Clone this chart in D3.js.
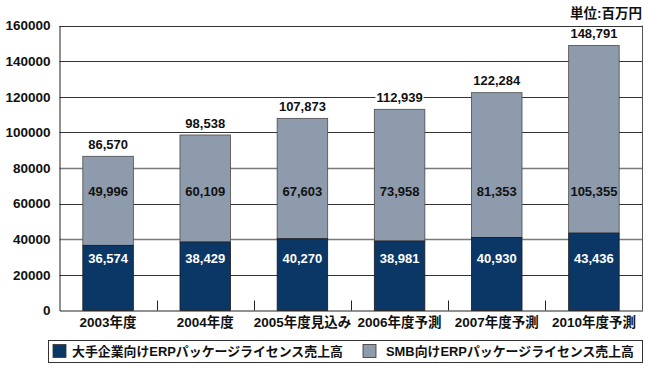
<!DOCTYPE html>
<html><head><meta charset="utf-8">
<script src="https://cdn.jsdelivr.net/npm/d3@7"></script>
<style>body{margin:0;background:#fff}svg{display:block}text{font-family:"Liberation Sans",Arial,"Noto Sans CJK JP",sans-serif;font-weight:bold}</style>
</head><body><svg id="c" width="650" height="368"></svg>
<script>
const categories = ["2003年度","2004年度","2005年度見込み","2006年度予測","2007年度予測","2010年度予測"];
const largeSales = [36574, 38429, 40270, 38981, 40930, 43436];
const smbSales = [49996, 60109, 67603, 73958, 81353, 105355];
const totals = ["86,570","98,538","107,873","112,939","122,284","148,791"];
const yTicks = [0,20000,40000,60000,80000,100000,120000,140000,160000];
const seriesNames = ["大手企業向けERPパッケージライセンス売上高","SMB向けERPパッケージライセンス売上高"];
const colors = ["#0b3767","#8e9bad"];

const svg = d3.select("#c");
const L=59.5, R=642.5, T=25.5, B=310.5;
const x = d3.scaleBand().domain(categories).range([L,R]).paddingInner(0.48).paddingOuter(0.24);
const y = d3.scaleLinear().domain([0,160000]).range([B,T]);
const fmt = d3.format(",");

// gridlines
svg.append("g").selectAll("line").data(yTicks.filter(d=>d>0)).join("line")
  .attr("x1",L).attr("x2",R).attr("y1",d=>Math.round(y(d))+0.5).attr("y2",d=>Math.round(y(d))+0.5)
  .attr("stroke",(d,i)=> (d===80000||d===40000) ? "#7a7a7a" : "#333").attr("stroke-width",(d)=> (d===80000||d===40000)?1.6:1);

// y axis
const ya = svg.append("g").attr("transform",`translate(${L},0)`)
  .call(d3.axisLeft(y).tickValues(yTicks).tickSize(0).tickPadding(9).tickFormat(d=>d));
ya.select(".domain").attr("stroke","#222");
ya.selectAll("text").attr("font-size",13.5).attr("fill","#111").attr("font-family","Liberation Sans, Arial");

// right border
svg.append("line").attr("x1",R).attr("x2",R).attr("y1",T).attr("y2",B).attr("stroke","#555");

// bars
const g = svg.append("g");
categories.forEach((c,i)=>{
  const y0 = y(0), y1 = y(largeSales[i]), y2 = y(largeSales[i]+smbSales[i]);
  g.append("rect").attr("x",x(c)).attr("width",x.bandwidth()).attr("y",y2).attr("height",y1-y2)
    .attr("fill",colors[1]).attr("stroke","#4a4a4a").attr("stroke-width",0.8);
  g.append("rect").attr("x",x(c)).attr("width",x.bandwidth()).attr("y",y1).attr("height",y0-y1)
    .attr("fill",colors[0]).attr("stroke","#1a1a1a").attr("stroke-width",0.8);
  const cx = x(c)+x.bandwidth()/2;
  const bg = g.append("rect").attr("fill","#fff");
  const t = g.append("text").attr("x",cx).attr("y",y2-12).attr("dy","0.35em").attr("text-anchor","middle")
    .attr("font-size",13).attr("fill","#111").text(totals[i]);
  const bb = t.node().getBBox();
  bg.attr("x",bb.x-1).attr("y",bb.y+1).attr("width",bb.width+2).attr("height",bb.height-2);
  g.append("text").attr("x",cx).attr("y",y(67000)).attr("dy","0.35em").attr("text-anchor","middle")
    .attr("font-size",13).attr("fill","#111").text(fmt(smbSales[i]));
  g.append("text").attr("x",cx).attr("y",y(29000)).attr("dy","0.35em").attr("text-anchor","middle")
    .attr("font-size",13).attr("fill","#fff").text(fmt(largeSales[i]));
});

// x axis
const xa = svg.append("g").attr("transform",`translate(0,${B})`)
  .call(d3.axisBottom(x).tickSize(0).tickPadding(7));
xa.select(".domain").attr("stroke","#222");
xa.selectAll("text").attr("font-size",13.5).attr("fill","#111");
// boundary ticks
svg.append("g").selectAll("line").data(d3.range(1,categories.length)).join("line")
  .attr("x1",d=>Math.round(L+d*(R-L)/categories.length)+0.5).attr("x2",d=>Math.round(L+d*(R-L)/categories.length)+0.5)
  .attr("y1",B-10).attr("y2",B).attr("stroke","#222");

// unit
svg.append("text").attr("x",642).attr("y",13).attr("dy","0.35em").attr("text-anchor","end")
  .attr("font-size",13.5).attr("fill","#111").text("単位:百万円");

// legend
const lg = svg.append("g");
lg.append("rect").attr("x",48.5).attr("y",340.5).attr("width",594).attr("height",22)
  .attr("fill","#fff").attr("stroke","#333");
const lx = [53,363], tx = [72,386];
seriesNames.forEach((n,i)=>{
  lg.append("rect").attr("x",lx[i]).attr("y",344.5).attr("width",13).attr("height",13)
    .attr("fill",colors[i]).attr("stroke","#333").attr("stroke-width",0.8);
  lg.append("text").attr("x",tx[i]).attr("y",351.5).attr("dy","0.35em")
    .attr("font-size",12.9).attr("fill","#111").text(n);
});
</script></body></html>
